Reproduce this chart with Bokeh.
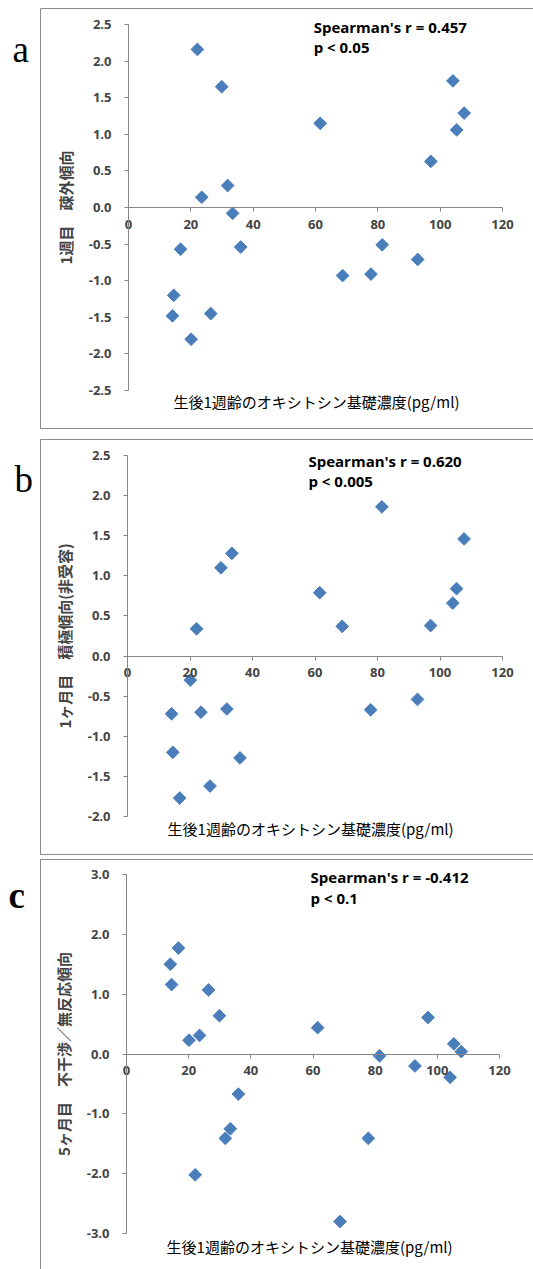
import math
from bokeh.plotting import figure
from bokeh.layouts import column, row
from bokeh.models import Range1d, FixedTicker, LinearAxis, Label, PrintfTickFormatter
from bokeh.embed import file_html
from bokeh.resources import INLINE

# ---------------- data ----------------
oxytocin = [14.1, 14.5, 16.7, 20.1, 22.1, 23.5, 26.4, 29.9, 31.8, 33.4,
            36.0, 61.5, 68.7, 77.8, 81.4, 92.8, 97.0, 104.1, 105.3, 107.7]
week1_avoid = [-1.48, -1.20, -0.57, -1.80, 2.16, 0.14, -1.45, 1.65, 0.30, -0.08,
               -0.54, 1.15, -0.93, -0.91, -0.51, -0.71, 0.63, 1.73, 1.06, 1.29]
month1_active = [-0.72, -1.20, -1.77, -0.30, 0.34, -0.70, -1.62, 1.10, -0.66, 1.28,
                 -1.27, 0.79, 0.37, -0.67, 1.86, -0.54, 0.38, 0.66, 0.84, 1.46]
month5_noresp = [1.50, 1.16, 1.77, 0.23, -2.02, 0.31, 1.07, 0.64, -1.41, -1.25,
                 -0.67, 0.44, -2.80, -1.41, -0.03, -0.20, 0.61, -0.39, 0.17, 0.04]

x_ticks = [0, 20, 40, 60, 80, 100, 120]
y_ticks_a = [-2.5, -2.0, -1.5, -1.0, -0.5, 0.0, 0.5, 1.0, 1.5, 2.0, 2.5]
y_ticks_b = [-2.0, -1.5, -1.0, -0.5, 0.0, 0.5, 1.0, 1.5, 2.0, 2.5]
y_ticks_c = [-3.0, -2.0, -1.0, 0.0, 1.0, 2.0, 3.0]

x_title = "生後1週齢のオキシトシン基礎濃度(pg/ml)"
y_titles = ["1週目　疎外傾向", "1ヶ月目　積極傾向(非受容)", "5ヶ月目　不干渉／無反応傾向"]
stat_r = ["Spearman's r = 0.457", "Spearman's r = 0.620", "Spearman's r =  -0.412"]
stat_p = ["p < 0.05", "p < 0.005", "p < 0.1"]
letters = ["a", "b", "c"]

# ---------------- style ----------------
W = 533          # page width
LW = 39          # width of the column holding the panel letter
AX = "#868686"
BOX = "#8c8c8c"
MARK = "#4a7ebb"
NUM_FONT = "Open Sans"
JP_FONT = "Noto Sans CJK JP"


def letter_fig(height, letter, bold, lx, ly):
    f = figure(width=LW, height=height, x_range=Range1d(0, LW),
               y_range=Range1d(height, 0), x_axis_type=None, y_axis_type=None,
               output_backend="svg", toolbar_location=None,
               min_border_left=0, min_border_right=0,
               min_border_top=0, min_border_bottom=0)
    f.outline_line_color = None
    f.xgrid.visible = False
    f.ygrid.visible = False
    f.add_layout(Label(x=lx, y=ly, text=letter, text_font="Liberation Serif",
                       text_font_size="37px",
                       text_font_style="bold" if bold else "normal",
                       text_align="left", text_baseline="alphabetic",
                       text_color="black"))
    return f


def panel(height, top, bottom, x0px, x120px, yhi, yhi_px, ylo, ylo_px,
          y_vals, y_ticks, y_title, r_text, p_text,
          stat_x, stat_y1, stat_y2, xt_x, xt_y):
    left = LW + 1                      # absolute x of the box's left edge
    fr_top = top
    fr_bot = height - bottom
    ppx = (x120px - x0px) / 120.0
    xr = (-(x0px - left) / ppx, (W - x0px) / ppx)
    ppy = (ylo_px - yhi_px) / (yhi - ylo)
    yr = (ylo - (fr_bot - ylo_px) / ppy, yhi + (yhi_px - fr_top) / ppy)

    p = figure(width=W - LW, height=height, x_range=Range1d(*xr), y_range=Range1d(*yr),
               output_backend="svg", toolbar_location=None,
               min_border_left=1, min_border_right=0,
               min_border_top=top, min_border_bottom=bottom)
    p.outline_line_color = None
    p.xgrid.visible = False
    p.ygrid.visible = False

    xa = p.xaxis[0]
    ya = p.yaxis[0]

    # box edges (left / top / bottom) drawn as bare axes
    for place in (["left", "above", "below"] if bottom > 0 else ["left", "above"]):
        ax = LinearAxis(ticker=FixedTicker(ticks=[]), axis_line_color=BOX,
                        axis_line_width=1, major_tick_line_color=None,
                        minor_tick_line_color=None, major_tick_out=0,
                        major_tick_in=0, major_label_standoff=0,
                        major_label_text_font_size="0px")
        p.add_layout(ax, place)

    ya.fixed_location = 0
    ya.bounds = (min(y_ticks), max(y_ticks))
    ya.ticker = FixedTicker(ticks=y_ticks)
    ya.formatter = PrintfTickFormatter(format="%.1f")
    ya.axis_line_color = AX
    ya.major_tick_line_color = AX
    ya.major_tick_out = 4
    ya.major_tick_in = 0
    ya.minor_tick_line_color = None
    ya.major_label_text_font = NUM_FONT
    ya.major_label_text_font_style = "bold"
    ya.major_label_text_font_size = "13px"
    ya.major_label_standoff = 13
    ya.axis_label = y_title
    ya.axis_label_text_font = JP_FONT
    ya.axis_label_text_font_style = "bold"
    ya.axis_label_text_font_size = "15px"
    ya.axis_label_standoff = 10

    xa.fixed_location = 0
    xa.bounds = (0, 120)
    xa.ticker = FixedTicker(ticks=x_ticks)
    xa.axis_line_color = AX
    xa.major_tick_line_color = AX
    xa.major_tick_out = 4
    xa.major_tick_in = 0
    xa.minor_tick_line_color = None
    xa.major_label_text_font = NUM_FONT
    xa.major_label_text_font_style = "bold"
    xa.major_label_text_font_size = "13px"
    xa.major_label_standoff = 8

    p.scatter(oxytocin, y_vals, marker="square", angle=math.pi / 4, size=9,
              fill_color=MARK, line_color=MARK)

    for txt, yy in ((r_text, stat_y1), (p_text, stat_y2)):
        p.add_layout(Label(x=stat_x, y=yy, text=txt, text_font=NUM_FONT,
                           text_font_style="bold", text_font_size="15px",
                           text_baseline="middle", text_align="left",
                           text_color="black"))
    p.add_layout(Label(x=xt_x, y=xt_y, text=x_title, text_font=JP_FONT,
                       text_font_size="15px", text_align="center",
                       text_baseline="middle", text_color="black"))
    return p


pa = panel(434, 8, 6, 128, 502, 2.5, 24, -2.5, 390,
           week1_avoid, y_ticks_a, y_titles[0], stat_r[0], stat_p[0],
           59.4, 2.46, 2.19, 60.3, -2.65)
pb = panel(422, 5, 2, 127, 502, 2.5, 21, -2.0, 382,
           month1_active, y_ticks_b, y_titles[1], stat_r[1], stat_p[1],
           57.9, 2.43, 2.18, 58.6, -2.15)
pc = panel(413, 3, 0, 126, 499, 3.0, 18, -3.0, 377,
           month5_noresp, y_ticks_c, y_titles[2], stat_r[2], stat_p[2],
           59.2, 2.955, 2.61, 58.9, -3.22)

la = letter_fig(434, letters[0], False, 12, 42)
lb = letter_fig(422, letters[1], False, 14, 41)
lc = letter_fig(413, letters[2], True, 8, 36)

layout = column(row(la, pa, spacing=0), row(lb, pb, spacing=0),
                row(lc, pc, spacing=0), spacing=0)
open("out.html", "w").write(file_html(layout, INLINE))
